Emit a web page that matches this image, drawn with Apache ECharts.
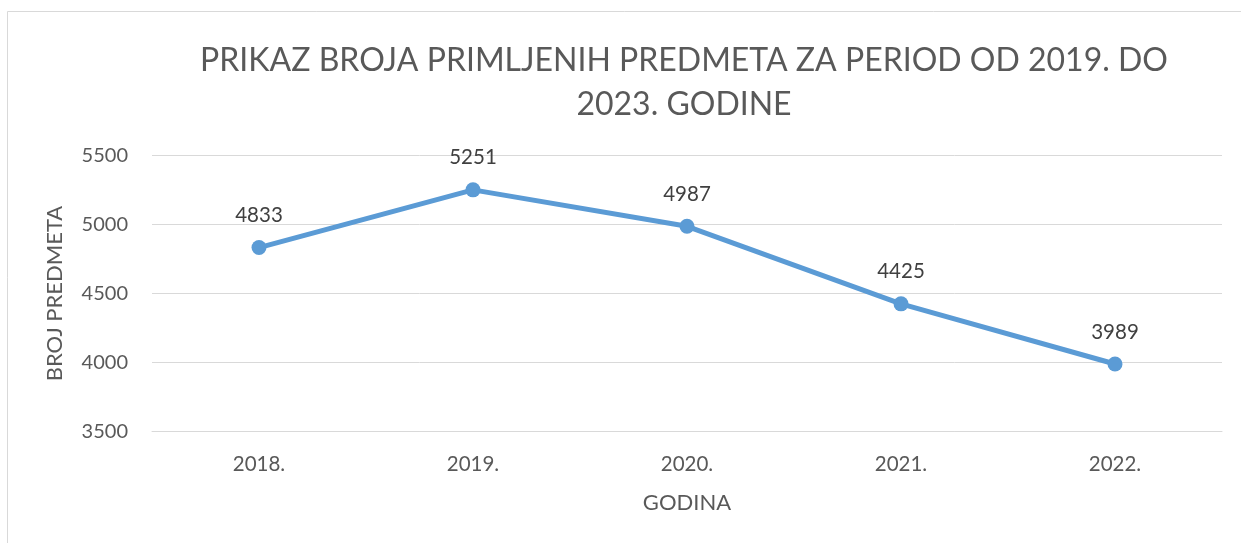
<!DOCTYPE html>
<html>
<head>
<meta charset="utf-8">
<script src="https://cdn.jsdelivr.net/npm/echarts@6/dist/echarts.min.js"></script>
<style>
html,body{margin:0;padding:0;background:#fff;}
#c{width:1241px;height:543px;}
</style>
</head>
<body>
<div id="c"></div>
<script>
const titleText = 'PRIKAZ BROJA PRIMLJENIH PREDMETA ZA PERIOD OD 2019. DO\n2023. GODINE';
const categories = ['2018.', '2019.', '2020.', '2021.', '2022.'];
const values = [4833, 5251, 4987, 4425, 3989];
const yTicks = { min: 3500, max: 5500, interval: 500 };
const xName = 'GODINA';
const yName = 'BROJ PREDMETA';

const FONT = 'Lato';
const chart = echarts.init(document.getElementById('c'), null, { renderer: 'canvas' });
chart.setOption({
  backgroundColor: '#ffffff',
  animation: false,
  graphic: [{
    type: 'rect',
    shape: { x: 7.5, y: 11.5, width: 1400, height: 700 },
    style: { fill: 'none', stroke: '#d9d9d9', lineWidth: 1 },
    silent: true
  }],
  title: {
    text: titleText,
    left: 679,
    top: 34,
    textAlign: 'center',
    textStyle: { fontFamily: FONT, fontSize: 32, fontWeight: 'normal', color: '#595959', lineHeight: 44 }
  },
  grid: { left: 152, right: 19, top: 155.5, bottom: 111.5 },
  xAxis: {
    type: 'category',
    data: categories,
    boundaryGap: true,
    name: xName,
    nameLocation: 'middle',
    nameGap: 60,
    nameTextStyle: { fontFamily: FONT, fontSize: 22, color: '#595959' },
    axisLine: { show: true, lineStyle: { color: '#d9d9d9', width: 1 } },
    axisTick: { show: false },
    axisLabel: { fontFamily: FONT, fontSize: 20.5, color: '#595959', margin: 22 }
  },
  yAxis: {
    type: 'value',
    min: yTicks.min,
    max: yTicks.max,
    interval: yTicks.interval,
    name: yName,
    nameLocation: 'middle',
    nameGap: 86,
    nameTextStyle: { fontFamily: FONT, fontSize: 22, color: '#595959' },
    axisLine: { show: false },
    axisTick: { show: false },
    axisLabel: { fontFamily: FONT, fontSize: 20, color: '#595959', margin: 24, formatter: v => String(v) },
    splitLine: { lineStyle: { color: '#d9d9d9', width: 1 } }
  },
  series: [{
    type: 'line',
    data: values,
    symbol: 'circle',
    symbolSize: 15,
    lineStyle: { color: '#5b9bd5', width: 5 },
    itemStyle: { color: '#5b9bd5' },
    label: {
      show: true,
      position: 'top',
      distance: 14,
      fontFamily: FONT,
      fontSize: 20.5,
      color: '#404040'
    }
  }]
});
</script>
</body>
</html>
